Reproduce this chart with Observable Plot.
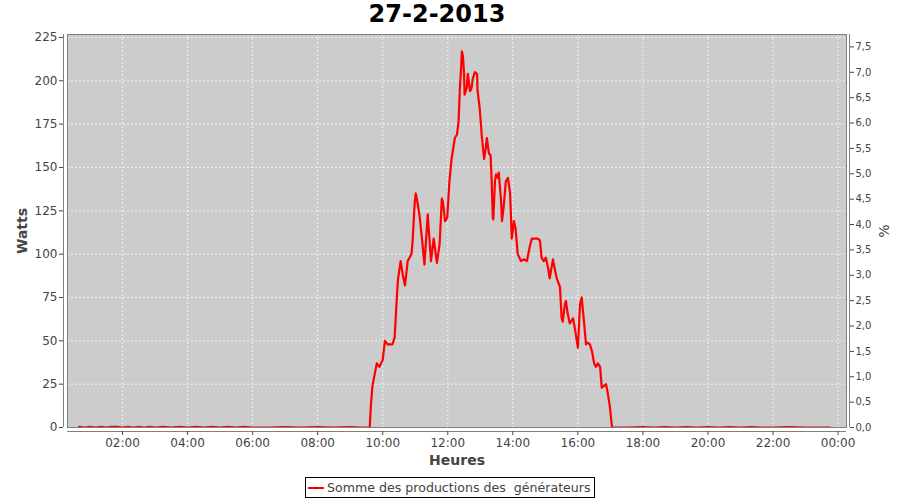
<!DOCTYPE html>
<html><head><meta charset="utf-8">
<script src="https://cdn.jsdelivr.net/npm/d3@7"></script>
<script src="https://cdn.jsdelivr.net/npm/@observablehq/plot@0.6"></script>
<style>
body{margin:0;background:#fff;font-family:"DejaVu Sans",sans-serif;position:relative;width:900px;height:500px;overflow:hidden;}
#title{position:absolute;left:0;top:0;width:874px;height:28px;line-height:28px;text-align:center;font-weight:bold;font-size:24px;color:#000;}
#chart{position:absolute;left:0;top:28px;}
#legend{position:absolute;left:305px;top:477px;width:288px;height:19px;border:1px solid #000;background:#fff;font-size:12.6px;color:#444;line-height:19px;white-space:pre;}
#legend svg{position:absolute;left:1px;top:5px;}
#legend span{position:absolute;left:21px;top:0;}
</style></head><body>
<div id="title">27-2-2013</div>
<div id="chart"></div>
<div id="legend"><svg width="18" height="10"><line x1="1" y1="5" x2="17" y2="5" stroke="#ff0000" stroke-width="2"/><rect x="8" y="4" width="2" height="2" fill="#aa0000"/></svg><span>Somme des productions des  générateurs</span></div>
<script>
// ---- data ----
const day = "2013-02-27";
const times = [
  "00:40","00:50","01:00","01:10","01:20","01:30","01:40","01:50","02:00","02:10","02:20","02:30","02:40","02:50",
  "03:00","03:15","03:30","03:45","04:00","04:15","04:30","04:45","05:00","05:15","05:30","05:45","06:00","06:30",
  "07:00","07:30","08:00","08:30","09:00","09:20","09:34",
  "09:36","09:38","09:41","09:49","09:54","10:00","10:04","10:09","10:18","10:22","10:26","10:28","10:33","10:37",
  "10:41","10:46","10:53","10:55","10:59","11:01","11:04","11:08","11:12","11:17","11:23","11:29","11:34","11:40",
  "11:45","11:49","11:51","11:55","11:59","12:03","12:07","12:09","12:13","12:17","12:20","12:22","12:24","12:26",
  "12:28","12:30","12:31","12:35","12:37","12:41","12:44","12:46","12:50","12:54","12:55","12:59","13:03","13:07",
  "13:10","13:12","13:16","13:19","13:21","13:23","13:24","13:27","13:29","13:32","13:34","13:38","13:40","13:43",
  "13:47","13:51","13:55","13:58","14:02","14:05","14:09","14:15","14:20","14:26","14:31","14:35","14:41","14:46",
  "14:50","14:53","14:57","15:01","15:05","15:08","15:14","15:17","15:21","15:27","15:30","15:32","15:36","15:38",
  "15:41","15:45","15:51","15:54","15:58","16:00","16:04","16:07","16:11","16:15","16:18","16:22","16:26","16:30",
  "16:33","16:37","16:41","16:44","16:48","16:52","16:55","16:59","17:03",
  "17:30","18:00","18:20","18:40","19:00","19:20","19:40","20:00","20:20","20:40","21:00","21:20","21:40","22:00",
  "22:30","23:00","23:20","23:45"
];
const watts = [
  0.4,0,0.4,0,0.4,0,0.4,0.4,0,0.4,0,0.4,0,0.4,
  0,0.4,0,0.4,0,0.4,0,0.4,0,0.4,0,0.4,0,0,
  0.3,0,0.3,0,0.3,0,0,
  0,12,24,37,35,39,50,48,48,52,75,85,96,88,
  82,96,100,107,130,135,130,122,110,94,123,96,109,95,
  106,132,130,119,121,142,155,159,167,169,177,194,204,217,
  214,204,192,196,204,194,196,201,205,204,194,184,167,155,
  161,167,158,157,142,121,120,142,146,144,147,132,119,127,
  142,144,135,109,119,115,100,96,97,96,104,109,109,109,
  108,98,96,98,92,86,97,92,86,81,63,61,71,73,
  66,60,63,58,50,46,71,75,62,48,49,48,44,37,
  35,37,35,23,24,25,20,12,0,
  0,0.3,0,0.3,0,0.3,0,0.3,0,0.3,0,0.3,0,0,
  0.3,0,0,0
];
const xTickLabels = ["02:00","04:00","06:00","08:00","10:00","12:00","14:00","16:00","18:00","20:00","22:00","00:00"];
const yTicks = [0,25,50,75,100,125,150,175,200,225];
const pctTicks = [0,0.5,1,1.5,2,2.5,3,3.5,4,4.5,5,5.5,6,6.5,7,7.5];
const yMax = 226.7;     // top of left axis (W)
const pctMax = 7.745;   // top of right axis (%)
const seriesName = "Somme des productions des  générateurs";

// ---- build ----
const parse = d3.timeParse("%Y-%m-%d %H:%M:%S");
const at = (d, t) => parse(d + " " + t + (t.length === 5 ? ":00" : ""));
const data = times.map((t, i) => ({date: at(day, t), w: watts[i]}));
const xTicks = xTickLabels.map(s => s === "00:00" ? at("2013-02-28", s) : at(day, s));
const xDomain = [at(day, "00:18:30"), at("2013-02-28", "00:15:30")];
const K = yMax / pctMax;
const fmtPct = d => (d / K).toFixed(1).replace(".", ",");

const chart = Plot.plot({
  width: 900, height: 446,
  marginTop: 6, marginBottom: 47, marginLeft: 67, marginRight: 54,
  style: {fontFamily: "'DejaVu Sans', sans-serif", background: "transparent", overflow: "visible"},
  x: {type: "time", domain: xDomain, label: null},
  y: {domain: [0, yMax], label: null},
  marks: [
    Plot.frame({fill: "#cccccc"}),
    Plot.gridX(xTicks, {stroke: "#ffffff", strokeOpacity: 0.75, strokeDasharray: "2,2"}),
    Plot.gridY(yTicks, {stroke: "#ffffff", strokeOpacity: 0.75, strokeDasharray: "2,2"}),
    Plot.line(data, {x: "date", y: "w", stroke: "#ff0000", strokeWidth: 2.2, clip: true}),
    Plot.frame({stroke: "#808080"}),
    Plot.ruleY([0], {dy: 4, stroke: "#808080"}),
    Plot.axisX(xTicks, {tickFormat: d3.timeFormat("%H:%M"), tickSize: 4, tickPadding: 3, dy: 4, fontSize: 12, color: "#444", label: null}),
    Plot.ruleX([xDomain[0]], {dx: -4, stroke: "#808080"}),
    Plot.axisY(yTicks, {anchor: "left", tickSize: 4, tickPadding: 2, dx: -4, fontSize: 12, color: "#444", label: null}),
    Plot.ruleX([xDomain[1]], {dx: 3, stroke: "#808080"}),
    Plot.axisY(pctTicks.map(p => p * K), {anchor: "right", tickSize: 4, tickPadding: 2, dx: 3, fontSize: 10, color: "#444", tickFormat: fmtPct, label: null}),
    Plot.text(["Watts"], {text: d => d, frameAnchor: "left", dx: -45, rotate: -90, lineAnchor: "middle", textAnchor: "middle", fontSize: 14, fontWeight: "bold", fill: "#444"}),
    Plot.text(["%"], {text: d => d, frameAnchor: "right", dx: 38, rotate: -90, lineAnchor: "middle", textAnchor: "middle", fontSize: 14, fill: "#444"}),
    Plot.text(["Heures"], {text: d => d, frameAnchor: "bottom", dy: 33, lineAnchor: "middle", textAnchor: "middle", fontSize: 14, fontWeight: "bold", fill: "#444"})
  ]
});
document.getElementById("chart").appendChild(chart);
document.querySelector("#legend span").textContent = seriesName;
</script>
</body></html>
